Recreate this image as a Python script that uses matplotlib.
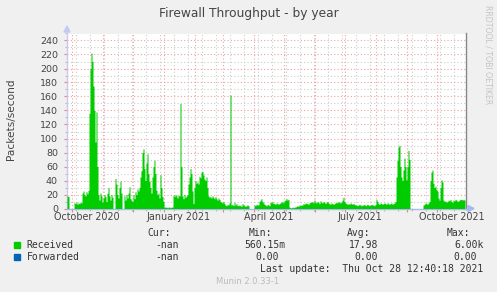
import numpy as np
import matplotlib
matplotlib.use("Agg")
import matplotlib.pyplot as plt
import matplotlib.dates as mdates
import matplotlib.transforms as mtransforms
from matplotlib.patches import Rectangle, Polygon
from matplotlib.ticker import MultipleLocator, NullFormatter, FixedLocator
import datetime as dt

nan = np.nan

# one value per day, first day is 2020-09-26
start_day = dt.date(2020, 9, 26)
received = [
    18, 17, nan, nan, nan, nan, nan, 8, 7, 9, 6, 8, 7, 9, 8,
    22, 25, 20, 18, 24, 21, 26, 136, 200, 222, 210, 175, 140, 95, 138, 60,
    20, 12, 22, 18, 9, 15, 20, 17, 10, 22, 30, 18, 12, 20, 16, nan, nan,
    43, 35, 20, 15, 30, 39, 22, nan, nan, 18, 12, 20, 15, 22, 31, 14,
    12, 10, 19, 14, 24, 20, 28, 25, 30, 45, 54, 80, 85, 57, 40, 65, 78, 50,
    39, 30, 22, 45, 60, 69, 50, 26, 20, 22, 15, 48, 30, 17, 10,
    2, 2, 2, 1, 2, 2, 1, 2, 2, 19, 17, 20, 18, 15, 19, 18, 150, 60,
    18, 14, 20, 16, 18, 20, 35, 45, 57, 50, 25, 7, 30, 40, 36, 38, 35,
    46, 44, 52, 53, 48, 42, 40, 45, 30, 18, 16, 17, 15, 18, 16, 14, 17,
    14, 12, 15, 13, 10, 9, 8, 10, 7, 5, 4, 6, 5, 8, 162,
    5, 6, 4, 9, 5, 7, 4, 5, 4, 5, 3, 7, 5, 4, 3, 4, 5, 4,
    nan, nan, nan, nan, nan, 5, 4, 6, 5, 5, 10, 12, 14, 10, 8,
    6, 5, 4, 6, 5, 4, 9, 8, 10, 7, 7, 6, 8, 7, 6, 7, 8, 9, 10, 8,
    11, 12, 14, 12, 13, 2, 1, 1, 2, 1, 2, 2, 3, 4, 3, 5, 4, 5, 5,
    7, 6, 8, 7, 7, 6, 8, 9, 9, 10, 8, 12, 9,
    8, 10, 9, 7, 11, 9, 8, 10, 9, 7, 9, 10, 8, 7, 6, 8, 7, 6, 7, 8,
    9, 8, 10, 9, 8, 9, 12, 16, 10, 8, 7, 6, 7, 6, 8, 7, 6, 7, 6, 5,
    5, 4, 5, 6, 5, 4, 5, 5, 6, 4, 5, 6, 5, 4, 5, 6, 5, 5, 4, 6, 13, 10,
    7, 6, 8, 7, 6, 7, 8, 7, 6, 8, 7, 6, 7, 8, 6, 7, 8, 10,
    45, 69, 88, 90, 60, 45, 40, 55, 72, 60, 41, 60, 83, 70,
    nan, nan, nan, nan, nan, nan, nan, nan, nan, nan, nan, nan, nan,
    5, 6, 8, 7, 6, 8, 10, 40, 52, 55, 36, 30, 32, 27, 25, 15, 12,
    30, 41, 38, 12, 10, 11, 9,
    10, 12, 11, 13, 10, 9, 12, 11, 13, 12, 10, 11, 12, 13, 13, 12, 13, 12,
]
forwarded = [0.0] * len(received)

month_labels = ["October 2020", "January 2021", "April 2021", "July 2021", "October 2021"]
label_days = [dt.date(2020, 10, 16), dt.date(2021, 1, 16), dt.date(2021, 4, 16),
              dt.date(2021, 7, 16), dt.date(2021, 10, 16)]
legend_rows = [
    ("Received", "#00CC00", "-nan", "560.15m", "17.98", "6.00k"),
    ("Forwarded", "#0066B3", "-nan", "0.00", "0.00", "0.00"),
]
last_update = "Last update:  Thu Oct 28 12:40:18 2021"

W, H = 497, 292


def fx(px):
    return px / W


def fy(py):
    return 1 - py / H


fig = plt.figure(figsize=(W / 100, H / 100), dpi=100, facecolor="#F0F0F0")
ax = fig.add_axes([fx(67), fy(208.5), 399 / W, 175 / H])
ax.set_facecolor("white")

# area series, drawn one column per day like rrdtool
days = [start_day + dt.timedelta(days=i) for i in range(len(received) + 1)]
xs = mdates.date2num(days)
rec = np.nan_to_num(np.array(received, dtype=float))
fwd = np.array(forwarded, dtype=float)
ax.fill_between(xs, np.append(rec, rec[-1]), step="post", color="#00CC00", linewidth=0, zorder=3)
ax.fill_between(xs, np.append(fwd, fwd[-1]), step="post", color="#0066B3", linewidth=0, zorder=3)

ax.set_xlim(mdates.date2num(dt.date(2020, 9, 26)), mdates.date2num(dt.date(2021, 10, 30)))
ax.set_ylim(0, 250)

# grid: red every month / 20 units, grey every two weeks / 10 units
ax.yaxis.set_major_locator(MultipleLocator(20))
ax.yaxis.set_minor_locator(MultipleLocator(10))
ax.xaxis.set_major_locator(mdates.MonthLocator())
biweekly = [mdates.date2num(dt.date(2020, 9, 21) + dt.timedelta(days=14 * k)) for k in range(30)]
ax.xaxis.set_minor_locator(FixedLocator(biweekly))
ax.xaxis.set_major_formatter(NullFormatter())
ax.set_axisbelow(True)
ax.grid(which="major", color="#F2A0A0", linestyle=(0, (1, 2)), linewidth=0.8)
ax.grid(which="minor", color="#CCCCCC", linestyle=(0, (1, 2)), linewidth=0.8)

ax.tick_params(which="major", length=2.5, width=0.8, color="#F08080", labelsize=6.8,
               labelcolor="#444444", pad=4)
ax.tick_params(which="minor", length=1.5, width=0.8, color="#BBBBBB")
ax.set_yticks(range(0, 241, 20))

ax.spines["top"].set_visible(False)
ax.spines["right"].set_color("#888888")
ax.spines["left"].set_color("#C8C8F4")
ax.spines["bottom"].set_color("#A8B8F0")
for s in ["left", "bottom", "right"]:
    ax.spines[s].set_linewidth(1)

# axis arrows
fig.patches.append(Polygon([[fx(64), fy(32)], [fx(70), fy(32)], [fx(67), fy(26)]],
                           closed=True, transform=fig.transFigure, color="#C8C8F4"))
fig.add_artist(plt.Line2D([fx(466), fx(469)], [fy(208.5), fy(208.5)], color="#A8B8F0", lw=1))
fig.patches.append(Polygon([[fx(468), fy(205.5)], [fx(468), fy(211.5)], [fx(474), fy(208.5)]],
                           closed=True, transform=fig.transFigure, color="#A8B8F0"))

# month labels sit on the 16th
xlab_trans = mtransforms.blended_transform_factory(ax.transData, fig.transFigure)
for lab, d in zip(month_labels, label_days):
    ax.text(mdates.date2num(d), fy(217.5), lab, transform=xlab_trans,
            ha="center", va="center", fontsize=6.9, color="#444444")

fig.text(0.5, fy(13), "Firewall Throughput - by year", ha="center", va="center",
         fontsize=8.8, color="#444444")
fig.text(fx(11), fy(119), "Packets/second", rotation=90, ha="center", va="center",
         fontsize=7.6, color="#444444")
fig.text(fx(488), fy(5), "RRDTOOL / TOBI OETIKER", rotation=270, ha="center", va="top",
         fontsize=5.6, color="#C4C4C4")

# legend block
mono = dict(family="DejaVu Sans Mono", fontsize=7, color="#333333", va="center")
for txt, right in [("Cur:", 171), ("Min:", 272), ("Avg:", 370), ("Max:", 470)]:
    fig.text(fx(right), fy(233.3), txt, ha="right", **mono)

row_y = [245, 257.3]
for (name, col, cur, mn, avg, mx), y in zip(legend_rows, row_y):
    fig.patches.append(Rectangle((fx(14), fy(y + 3)), 6 / W, 6 / H, transform=fig.transFigure,
                                 color=col))
    fig.text(fx(26.5), fy(y), name, ha="left", **mono)
    fig.text(fx(179), fy(y), cur, ha="right", **mono)
    fig.text(fx(285 if mn.endswith("m") else 279), fy(y), mn, ha="right", **mono)
    fig.text(fx(378.3), fy(y), avg, ha="right", **mono)
    fig.text(fx(483.3 if mx.endswith("k") else 477.3), fy(y), mx, ha="right", **mono)

fig.text(fx(483.3), fy(269.3), last_update, ha="right", **mono)
fig.text(fx(248), fy(281), "Munin 2.0.33-1", ha="center", va="center", fontsize=6,
         color="#BBBBBB")

fig.savefig("out.png", dpi=100, facecolor=fig.get_facecolor())
